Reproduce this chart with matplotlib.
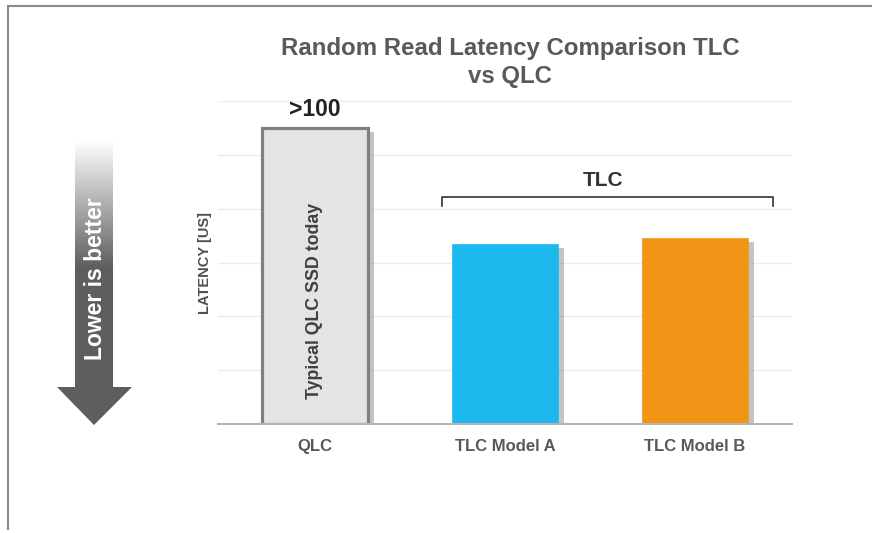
import numpy as np
import matplotlib
matplotlib.use("Agg")
import matplotlib.pyplot as plt
from matplotlib.patches import Polygon
from matplotlib.colors import LinearSegmentedColormap
import matplotlib.patheffects as pe

plt.rcParams['font.family'] = ['Liberation Sans', 'DejaVu Sans']

categories = ["QLC", "TLC Model A", "TLC Model B"]
values = [110, 67, 69]
colors = ["#e4e4e4", "#1bb9ed", "#f29517"]
edgecolors = ["#808080", "#1bb9ed", "#f29517"]
yticks = [0, 20, 40, 60, 80, 100, 120]
title = "Random Read Latency Comparison TLC\nvs QLC"
ylabel = "LATENCY [US]"
qlc_note = "Typical QLC SSD today"
qlc_top = ">100"
group_label = "TLC"
arrow_label = "Lower is better"

W, H = 872, 533
fig = plt.figure(figsize=(W / 100, H / 100), dpi=100)

# overlay axes in pixel coords
ov = fig.add_axes([0, 0, 1, 1], zorder=0)
ov.set_xlim(0, W)
ov.set_ylim(H, 0)
ov.axis("off")
ov.plot([7, W], [5.5, 5.5], color="#8a8a8a", lw=1.5, solid_capstyle="butt")
ov.plot([7.5, 7.5], [5, 530], color="#8a8a8a", lw=1.5, solid_capstyle="butt")

# arrow with gradient
arrow_pts = [(75, 140), (113, 140), (113, 387), (132, 387), (94, 425), (57, 387), (75, 387)]
poly = Polygon(arrow_pts, closed=True, facecolor="none", edgecolor="none")
ov.add_patch(poly)
grad = np.linspace(0, 1, 256).reshape(-1, 1)
grad = np.clip(grad / 0.45, 0, 1)[::-1]
cmap = LinearSegmentedColormap.from_list("g", ["#ffffff", "#5e5e5e"])
im = ov.imshow(grad, cmap=cmap, extent=[57, 132, 425, 140], aspect="auto", origin="lower",
               interpolation="bilinear", zorder=1)
im.set_clip_path(poly)
ov.set_xlim(0, W)
ov.set_ylim(H, 0)
ov.text(95, 279, arrow_label, rotation=90, color="white", fontsize=16.5, fontweight="bold",
        ha="center", va="center", zorder=3)

# main axes
x0, x1 = 218, 792
yb, yt = 424, 101
ax = fig.add_axes([x0 / W, (H - yb) / H, (x1 - x0) / W, (yb - yt) / H], zorder=2)
ax.patch.set_alpha(0)
x = np.arange(len(categories))
bars = ax.bar(x, values, width=0.56, color=colors, edgecolor=edgecolors,
              linewidth=[2.3, 0.5, 0.5], zorder=3)
for b in bars:
    b.set_path_effects([pe.SimplePatchShadow(offset=(4, -3), shadow_rgbFace="#8a8a8a", alpha=0.5),
                        pe.Normal()])
ax.set_xlim(-0.51, 2.51)
ax.set_ylim(0, 120)
ax.set_yticks(yticks)
ax.yaxis.grid(True, color="#ececec", lw=1)
ax.set_axisbelow(True)
ax.tick_params(axis="y", left=False, labelleft=False)
ax.tick_params(axis="x", bottom=False, pad=7)
ax.set_xticks(x)
ax.set_xticklabels(categories, fontsize=12, fontweight="bold", color="#595959")
for s in ["top", "right", "left"]:
    ax.spines[s].set_visible(False)
ax.spines["bottom"].set_color("#b5b5b5")
ax.spines["bottom"].set_linewidth(1.5)
ax.spines["bottom"].set_zorder(4)
ax.set_ylabel(ylabel, fontsize=10.5, fontweight="bold", color="#505050", labelpad=4)

ax.text(0, 45.7, qlc_note, rotation=90, ha="center", va="center",
        fontsize=12.8, fontweight="bold", color="#404040", zorder=5)
ax.text(0, values[0] + 2.5, qlc_top, ha="center", va="bottom", fontsize=16.5,
        fontweight="bold", color="#222222", zorder=5)

# bracket
bx0, bx1 = 0.67, 2.41
by, bd = 84.3, 3.2
ax.plot([bx0, bx0, bx1, bx1], [by - bd, by, by, by - bd], color="#333333", lw=1.2, zorder=5,
        clip_on=False)
ax.text((bx0 + bx1) / 2 - 0.025, by + 2.5, group_label, ha="center", va="bottom", fontsize=15,
        fontweight="bold", color="#333333", zorder=5)

fig.text(510 / W, 1 - 37 / H, title, ha="center", va="top", fontsize=17.3, fontweight="bold",
         color="#595959", linespacing=1.25)

fig.savefig("out.png", dpi=100, facecolor="white")
